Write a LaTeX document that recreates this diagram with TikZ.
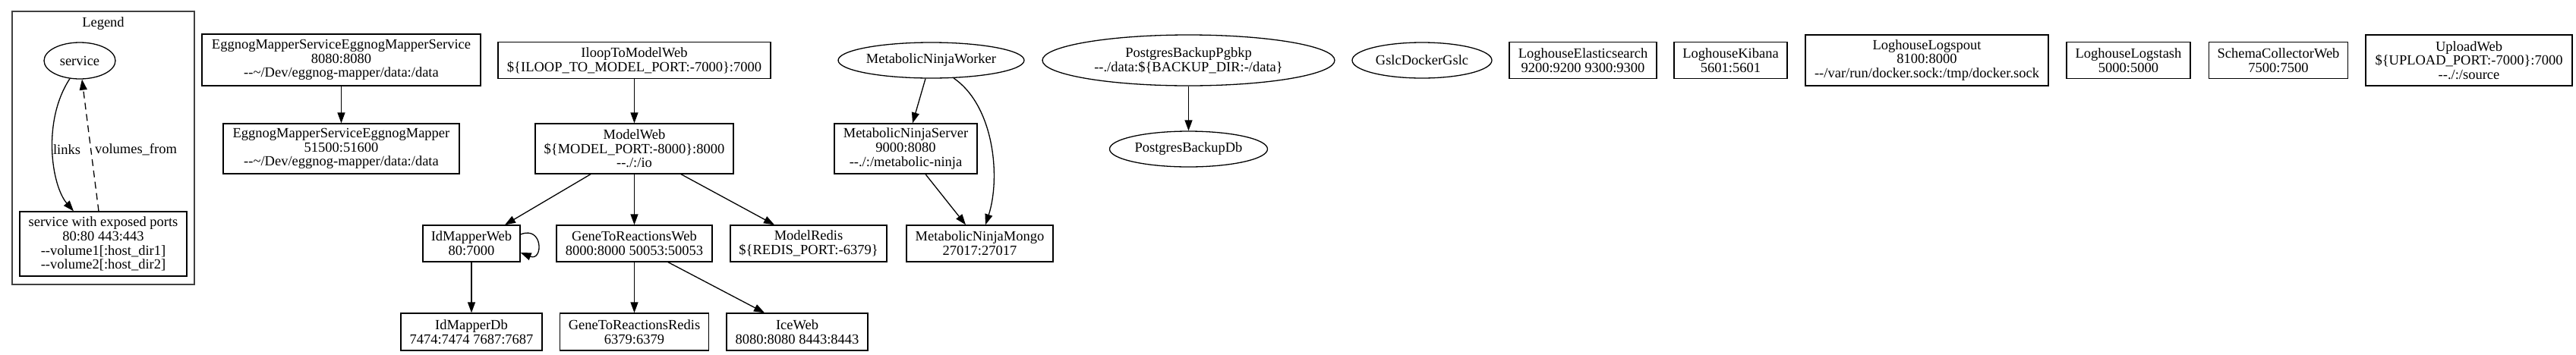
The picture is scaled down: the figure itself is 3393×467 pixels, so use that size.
\documentclass[tikz,border=0pt]{standalone}
\usepackage{fontspec}
\setmainfont{Liberation Serif}[Ligatures=TeXOff]
\usetikzlibrary{arrows.meta,shapes.geometric}
\newcommand{\gvfont}{\fontsize{18.5}{18.7}\selectfont}
\tikzset{
  box/.style={draw, rectangle, line width=1.3pt, inner sep=0pt, align=center, font=\gvfont},
  oval/.style={draw, ellipse, line width=1.3pt, inner sep=0pt, align=center, font=\gvfont},
  lbl/.style={inner sep=0pt, font=\gvfont},
  arr/.style={line width=1.3pt, -{Triangle[length=14pt,width=10pt]}},
  cluster/.style={draw=black!75, line width=1.6pt},
}
\begin{document}
\begin{tikzpicture}[x=1pt,y=-1pt]
\useasboundingbox (0,0) rectangle (3393,467);
% Legend
\draw[cluster] (16,15) rectangle (256,375);
\node[lbl] (legtitle) at (136,31) {Legend};
\node[oval, minimum width=94pt, minimum height=48pt] (legsvc) at (105,80) {service};
\node[box, minimum width=220pt, minimum height=85pt] (legports) at (136,321.5) {service with exposed ports\\80:80 443:443\\--volume1[:host\_dir1]\\--volume2[:host\_dir2]};
\node[lbl] (linkslbl) at (88,197) {links};
\node[lbl] (volslbl) at (179,197) {volumes\_from};
\draw[arr] ([xshift=-13pt,yshift=1pt]legsvc.south) .. controls (55,160) and (68,245) .. ([xshift=-39pt]legports.north);
\draw[arr, dashed, dash pattern=on 9pt off 6pt] ([xshift=-6pt]legports.north) -- ([xshift=3pt]legsvc.south);

% Eggnog
\node[box, minimum width=367pt, minimum height=68pt] (egs) at (449.5,79) {EggnogMapperServiceEggnogMapperService\\8080:8080\\--\textasciitilde/Dev/eggnog-mapper/data:/data};
\node[box, minimum width=311pt, minimum height=66pt] (egm) at (449.5,196) {EggnogMapperServiceEggnogMapper\\51500:51600\\--\textasciitilde/Dev/eggnog-mapper/data:/data};
\draw[arr] (egs.south) -- (egm.north);

% Iloop / Model
\node[box, minimum width=359pt, minimum height=48pt] (iloop) at (835.5,79.5) {IloopToModelWeb\\\$\{ILOOP\_TO\_MODEL\_PORT:-7000\}:7000};
\node[box, minimum width=261pt, minimum height=66pt] (modelweb) at (835.5,196) {ModelWeb\\\$\{MODEL\_PORT:-8000\}:8000\\--./:/io};
\node[box, minimum width=128pt, minimum height=48pt] (idmapweb) at (621,321) {IdMapperWeb\\80:7000};
\node[box, minimum width=205pt, minimum height=48pt] (gtrweb) at (835.5,321) {GeneToReactionsWeb\\8000:8000 50053:50053};
\node[box, minimum width=206pt, minimum height=48pt] (modelredis) at (1065,321) {ModelRedis\\\$\{REDIS\_PORT:-6379\}};
\node[box, minimum width=186pt, minimum height=49pt] (idmapdb) at (621,437.5) {IdMapperDb\\7474:7474 7687:7687};
\node[box, minimum width=196pt, minimum height=49pt] (gtrredis) at (835.5,437.5) {GeneToReactionsRedis\\6379:6379};
\node[box, minimum width=186pt, minimum height=49pt] (iceweb) at (1050,437.5) {IceWeb\\8080:8080 8443:8443};
\draw[arr] (iloop.south) -- (modelweb.north);
\draw[arr] ([xshift=-57.5pt]modelweb.south) -- ([xshift=44pt]idmapweb.north);
\draw[arr] (modelweb.south) -- (gtrweb.north);
\draw[arr] ([xshift=61.5pt]modelweb.south) -- ([xshift=-45pt]modelredis.north);
\draw[arr] ([yshift=12pt]idmapweb.east) .. controls +(30,-12) and +(30,12) .. ([yshift=-12pt]idmapweb.east);
\draw[arr] (idmapweb.south) -- (idmapdb.north);
\draw[arr] (gtrweb.south) -- (gtrredis.north);
\draw[arr] ([xshift=44.5pt]gtrweb.south) -- ([xshift=-43pt]iceweb.north);

% Metabolic Ninja
\node[oval, minimum width=245pt, minimum height=47pt] (worker) at (1226.5,79.5) {MetabolicNinjaWorker};
\node[box, minimum width=188pt, minimum height=66pt] (server) at (1193,196) {MetabolicNinjaServer\\9000:8080\\--./:/metabolic-ninja};
\node[box, minimum width=193pt, minimum height=48pt] (mongo) at (1290.5,321) {MetabolicNinjaMongo\\27017:27017};
\draw[arr] ([xshift=-7.5pt]worker.south) -- ([xshift=9pt]server.north);
\draw[arr] ([xshift=26pt]server.south) -- ([xshift=-18.5pt]mongo.north);
\draw[arr] ([xshift=29.5pt,yshift=0.7pt]worker.south) .. controls (1310,140) and (1318,235) .. ([xshift=7.5pt]mongo.north);

% Postgres
\node[oval, minimum width=385pt, minimum height=67pt] (pgbkp) at (1565.5,79.5) {PostgresBackupPgbkp\\--./data:\$\{BACKUP\_DIR:-/data\}};
\node[oval, minimum width=208pt, minimum height=47pt] (pgdb) at (1565.5,196.5) {PostgresBackupDb};
\draw[arr] (pgbkp.south) -- (pgdb.north);

% Isolated services
\node[oval, minimum width=184pt, minimum height=47pt] (gslc) at (1873,79.5) {GslcDockerGslc};
\node[box, minimum width=194pt, minimum height=48pt] (elastic) at (2085,79.5) {LoghouseElasticsearch\\9200:9200 9300:9300};
\node[box, minimum width=149pt, minimum height=48pt] (kibana) at (2279.5,79.5) {LoghouseKibana\\5601:5601};
\node[box, minimum width=320pt, minimum height=67pt] (logspout) at (2538,79.5) {LoghouseLogspout\\8100:8000\\--/var/run/docker.sock:/tmp/docker.sock};
\node[box, minimum width=163pt, minimum height=48pt] (logstash) at (2803.5,79.5) {LoghouseLogstash\\5000:5000};
\node[box, minimum width=183pt, minimum height=48pt] (schema) at (3001,79.5) {SchemaCollectorWeb\\7500:7500};
\node[box, minimum width=272pt, minimum height=67pt] (upload) at (3252,79.5) {UploadWeb\\\$\{UPLOAD\_PORT:-7000\}:7000\\--./:/source};
\end{tikzpicture}
\end{document}
